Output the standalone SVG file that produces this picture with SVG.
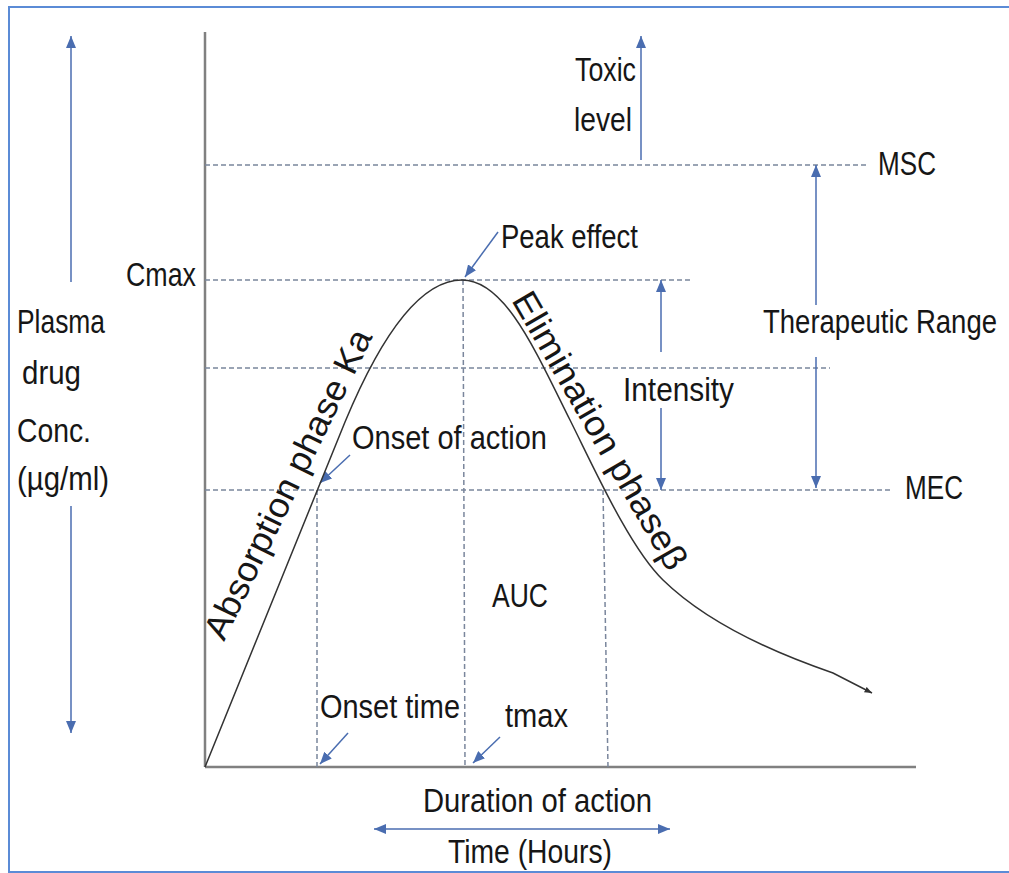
<svg xmlns="http://www.w3.org/2000/svg" width="1009" height="873" viewBox="0 0 1009 873">
<defs>
<marker id="ah" viewBox="0 0 12 10" refX="12" refY="5" markerWidth="12" markerHeight="10" markerUnits="userSpaceOnUse" orient="auto-start-reverse">
<path d="M0,0 L12,5 L0,10 z" fill="#4a6db0"/>
</marker>
<marker id="ah2" viewBox="0 0 10 8" refX="10" refY="4" markerWidth="8" markerHeight="6" markerUnits="userSpaceOnUse" orient="auto">
<path d="M0,0 L10,4 L0,8 z" fill="#333"/>
</marker>
</defs>
<style>
text{font-family:"Liberation Sans",Arial,sans-serif;font-size:33px;fill:#161616}
.rot{font-size:35px}
.dash{stroke:#7a869c;stroke-width:1.5;stroke-dasharray:5 3;fill:none}
.axis{stroke:#808080;stroke-width:2.5;fill:none}
.arr{stroke:#4a6db0;stroke-width:1.5;fill:none}
.curve{stroke:#333;stroke-width:1.5;fill:none}
</style>
<rect x="0" y="0" width="1009" height="873" fill="#ffffff"/>
<rect x="9" y="7" width="1010" height="865" fill="none" stroke="#5b8bd6" stroke-width="2"/>

<g id="axes">
<line class="axis" x1="205" y1="32" x2="205" y2="767"/>
<line class="axis" x1="205" y1="767" x2="916" y2="767"/>
</g>

<g id="connectors">
<line class="dash" x1="205" y1="165" x2="866" y2="165"/>
<line class="dash" x1="205" y1="280" x2="693" y2="280"/>
<line class="dash" x1="205" y1="368" x2="830" y2="368"/>
<line class="dash" x1="205" y1="490" x2="893" y2="490"/>
<line class="dash" x1="317" y1="490" x2="317" y2="767"/>
<line class="dash" x1="463" y1="280" x2="465" y2="767"/>
<line class="dash" x1="603" y1="490" x2="608" y2="767"/>
<line class="arr" x1="71" y1="282" x2="71" y2="36" marker-end="url(#ah)"/>
<line class="arr" x1="71" y1="506" x2="71" y2="733" marker-end="url(#ah)"/>
<line class="arr" x1="641" y1="160" x2="641" y2="36" marker-end="url(#ah)"/>
<line class="arr" x1="661" y1="352" x2="661" y2="280" marker-end="url(#ah)"/>
<line class="arr" x1="661" y1="408" x2="661" y2="490" marker-end="url(#ah)"/>
<line class="arr" x1="816" y1="305" x2="816" y2="165" marker-end="url(#ah)"/>
<line class="arr" x1="816" y1="357" x2="816" y2="488" marker-end="url(#ah)"/>
<line class="arr" x1="374" y1="829" x2="670" y2="829" marker-start="url(#ah)" marker-end="url(#ah)"/>
<line class="arr" x1="498" y1="232" x2="465" y2="277" marker-end="url(#ah)"/>
<line class="arr" x1="350" y1="455" x2="320" y2="483" marker-end="url(#ah)"/>
<line class="arr" x1="348" y1="733" x2="320" y2="764" marker-end="url(#ah)"/>
<line class="arr" x1="500" y1="737" x2="473" y2="763" marker-end="url(#ah)"/>
</g>

<g id="curve">
<path class="curve" d="M205,767 L345,422 C375,350 415,280 462,280 C505,280 535,350 570,420 C595,470 630,548 663,580 C703,619 760,648 833,673 L872,693" marker-end="url(#ah2)"/>
</g>

<g id="y-label">
<text x="17" y="333" textLength="88" lengthAdjust="spacingAndGlyphs">Plasma</text>
<text x="22" y="384" textLength="59" lengthAdjust="spacingAndGlyphs">drug</text>
<text x="17" y="442" textLength="74" lengthAdjust="spacingAndGlyphs">Conc.</text>
<text x="17" y="490" textLength="92" lengthAdjust="spacingAndGlyphs">(µg/ml)</text>
</g>
<g id="toxic"><text x="575" y="81" textLength="61" lengthAdjust="spacingAndGlyphs">Toxic</text>
<text x="574" y="131" textLength="58" lengthAdjust="spacingAndGlyphs">level</text></g>
<g id="msc"><text x="878" y="175" textLength="58" lengthAdjust="spacingAndGlyphs">MSC</text></g>
<g id="peak"><text x="501" y="248" textLength="137" lengthAdjust="spacingAndGlyphs">Peak effect</text></g>
<g id="cmax"><text x="126" y="286" textLength="70" lengthAdjust="spacingAndGlyphs">Cmax</text></g>
<g id="therapeutic"><text x="763" y="333" textLength="234" lengthAdjust="spacingAndGlyphs">Therapeutic Range</text></g>
<g id="intensity"><text x="623" y="401" textLength="111" lengthAdjust="spacingAndGlyphs">Intensity</text></g>
<g id="onset-action"><text x="352" y="449" textLength="195" lengthAdjust="spacingAndGlyphs">Onset of action</text></g>
<g id="mec"><text x="905" y="499" textLength="58" lengthAdjust="spacingAndGlyphs">MEC</text></g>
<g id="auc"><text x="492" y="607" textLength="56" lengthAdjust="spacingAndGlyphs">AUC</text></g>
<g id="onset-time"><text x="320" y="718" textLength="140" lengthAdjust="spacingAndGlyphs">Onset time</text></g>
<g id="tmax"><text x="505" y="727" textLength="63" lengthAdjust="spacingAndGlyphs">tmax</text></g>
<g id="duration"><text x="423" y="812" textLength="229" lengthAdjust="spacingAndGlyphs">Duration of action</text></g>
<g id="time"><text x="448" y="863" textLength="164" lengthAdjust="spacingAndGlyphs">Time (Hours)</text></g>
<g id="absorption"><text class="rot" transform="translate(224,642) rotate(-64)" x="0" y="0" textLength="340" lengthAdjust="spacingAndGlyphs">Absorption phase Ka</text></g>
<g id="elimination"><text class="rot" transform="translate(511,300) rotate(60)" x="0" y="0" textLength="315" lengthAdjust="spacingAndGlyphs">Elimination phaseβ</text></g>
</svg>
